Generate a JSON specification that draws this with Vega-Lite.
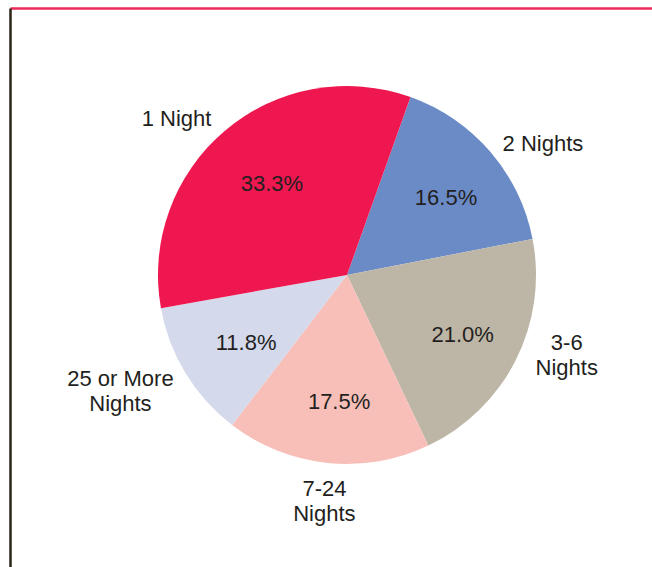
{
  "$schema": "https://vega.github.io/schema/vega-lite/v6.json",
  "autosize": "none",
  "padding": {"left": 10, "top": 8, "right": 0, "bottom": 25},
  "width": 674,
  "height": 534,
  "background": "white",
  "config": {"view": {"stroke": null}, "font": "Liberation Sans"},
  "layer": [
    {
      "data": {"values": [{"v": 0}, {"v": 1}]},
      "mark": {"type": "point", "opacity": 0},
      "encoding": {
        "x": {"field": "v", "type": "quantitative", "scale": {"domain": [0, 1]},
          "axis": {"orient": "top", "domainColor": "#ED2A5A", "domainWidth": 2.5, "ticks": false, "labels": false, "grid": false, "title": null}},
        "y": {"field": "v", "type": "quantitative", "scale": {"domain": [0, 1], "range": [559, 0]},
          "axis": {"orient": "left", "domainColor": "#2A2318", "domainWidth": 2.5, "ticks": false, "labels": false, "grid": false, "title": null}}
      }
    },
    {
      "data": {"name": "pie", "values": [
        {"category": "2 Nights", "label": "2 Nights", "share": 16.5, "pct": "16.5%", "ord": 1},
        {"category": "3-6 Nights", "label": "3-6\nNights", "share": 21.0, "pct": "21.0%", "ord": 2},
        {"category": "7-24 Nights", "label": "7-24\nNights", "share": 17.5, "pct": "17.5%", "ord": 3},
        {"category": "25 or More Nights", "label": "25 or More\nNights", "share": 11.8, "pct": "11.8%", "ord": 4},
        {"category": "1 Night", "label": "1 Night", "share": 33.3, "pct": "33.3%", "ord": 5}
      ]},
      "encoding": {
        "theta": {"field": "share", "type": "quantitative", "stack": true, "scale": {"range": [0.343, 6.626]}},
        "order": {"field": "ord", "type": "quantitative"}
      },
      "layer": [
        {
          "mark": {"type": "arc", "outerRadius": 189},
          "encoding": {
            "color": {"field": "category", "type": "nominal", "legend": null,
              "scale": {"domain": ["2 Nights", "3-6 Nights", "7-24 Nights", "25 or More Nights", "1 Night"],
                "range": ["#6B8BC7", "#BDB6A6", "#F7BFB8", "#D4D9EC", "#EE174F"]}}
          }
        },
        {
          "mark": {"type": "text", "radius": 124, "dx": 5, "dy": 4, "fontSize": 22, "color": "#231F20", "align": "center", "baseline": "middle"},
          "encoding": {"text": {"field": "pct", "type": "nominal"}}
        },
        {
          "mark": {"type": "text", "radius": 236, "dx": 17, "dy": 23, "fontSize": 22, "color": "#231F20", "align": "center", "baseline": "middle", "lineBreak": "\n", "lineHeight": 25},
          "encoding": {"text": {"field": "label", "type": "nominal"},
            "opacity": {"condition": {"test": "datum.ord == 1", "value": 1}, "value": 0}}
        },
        {
          "mark": {"type": "text", "radius": 236, "dx": 9, "dy": -38, "fontSize": 22, "color": "#231F20", "align": "center", "baseline": "middle", "lineBreak": "\n", "lineHeight": 25},
          "encoding": {"text": {"field": "label", "type": "nominal"},
            "opacity": {"condition": {"test": "datum.ord == 2", "value": 1}, "value": 0}}
        },
        {
          "mark": {"type": "text", "radius": 236, "dx": 2, "dy": -21, "fontSize": 22, "color": "#231F20", "align": "center", "baseline": "middle", "lineBreak": "\n", "lineHeight": 25},
          "encoding": {"text": {"field": "label", "type": "nominal"},
            "opacity": {"condition": {"test": "datum.ord == 3", "value": 1}, "value": 0}}
        },
        {
          "mark": {"type": "text", "radius": 236, "dx": -25, "dy": -19, "fontSize": 22, "color": "#231F20", "align": "center", "baseline": "middle", "lineBreak": "\n", "lineHeight": 25},
          "encoding": {"text": {"field": "label", "type": "nominal"},
            "opacity": {"condition": {"test": "datum.ord == 4", "value": 1}, "value": 0}}
        },
        {
          "mark": {"type": "text", "radius": 236, "dx": -18, "dy": 24, "fontSize": 22, "color": "#231F20", "align": "center", "baseline": "middle", "lineBreak": "\n", "lineHeight": 25},
          "encoding": {"text": {"field": "label", "type": "nominal"},
            "opacity": {"condition": {"test": "datum.ord == 5", "value": 1}, "value": 0}}
        }
      ]
    }
  ]
}
